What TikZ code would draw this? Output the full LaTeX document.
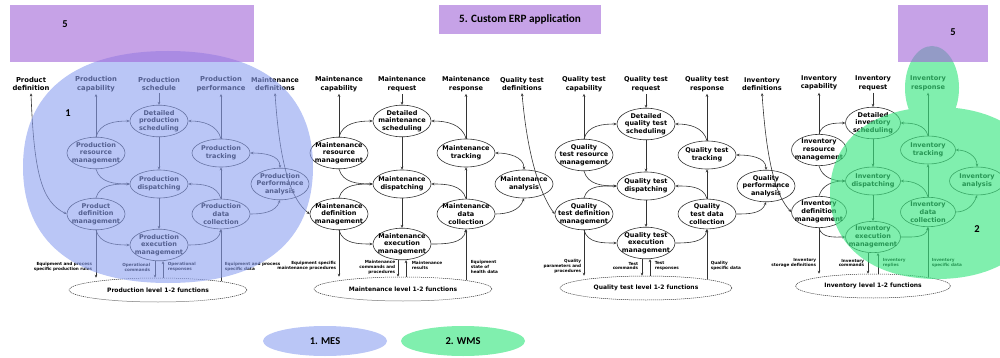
\documentclass[tikz,border=0pt]{standalone}
\usepackage{fontspec}
\newfontfamily\dvb{DejaVu Sans Bold}
\newfontfamily\crb{Carlito Bold}
\usetikzlibrary{shapes.geometric,arrows.meta}
\definecolor{mesblue}{RGB}{140,160,240}
\definecolor{wmsgreen}{RGB}{60,230,130}
\definecolor{erppurple}{RGB}{160,100,215}

\begin{document}
\begin{tikzpicture}[x=1pt, y=1pt, >={Stealth[length=3pt,width=2.6pt]},
  color=black!80, line width=0.6pt, every node/.style={text=black},
  proc/.style={ellipse, draw, minimum width=58pt, minimum height=28pt, inner xsep=-6pt, inner ysep=0.3pt, align=center, font=\dvb\fontsize{6.5}{7.7}\selectfont},
  io/.style={align=center, inner sep=2pt, font=\dvb\fontsize{6.6}{8.6}\selectfont},
  bigio/.style={io, font=\dvb\fontsize{6.8}{8.8}\selectfont},
  lvl/.style={ellipse, draw, line width=0.5pt, dash pattern=on 1.2pt off 0.8pt, minimum width=178pt, minimum height=24pt, font=\dvb\fontsize{6}{7}\selectfont},
  note/.style={inner sep=0.5pt, font=\dvb\fontsize{4.2}{4.9}\selectfont},
  num/.style={font=\crb\fontsize{10.5}{12}\selectfont}]
\useasboundingbox (0,0) rectangle (1000,-358);
\clip (0,0) rectangle (1000,-358);

% production
\node[bigio] (pdefl) at (31,-84) {Product\\definition};
\node[bigio] (pcapl) at (96,-84) {Production\\capability};
\node[bigio] (pschl) at (159,-84) {Production\\schedule};
\node[bigio] (pperfl) at (221,-84) {Production\\performance};
\node[io] (mdefl) at (275,-84) {Maintenance\\definitions};
\node[proc] (psch) at (159,-121) {Detailed\\production\\scheduling};
\node[proc] (pres) at (96,-153) {Production\\resource\\management};
\node[proc] (ptrk) at (221,-153) {Production\\tracking};
\node[proc] (pdis) at (159,-184) {Production\\dispatching};
\node[proc] (pana) at (280,-184) {Production\\Performance\\analysis};
\node[proc] (pdef) at (96,-214) {Product\\definition\\management};
\node[proc] (pdc) at (221,-214) {Production\\data\\collection};
\node[proc] (pexe) at (159,-245) {Production\\execution\\management};
\node[lvl] (plvl) at (158,-290) {Production level 1-2 functions};
\node[note, anchor=east, align=right] (pn1) at (93,-267) {Equipment and process\\specific production rules};
\node[note, anchor=east, align=right] (pn2) at (151,-267) {Operational\\commands};
\node[note, anchor=west, align=left] (pn3) at (167,-267) {Operational\\responses};
\node[note, anchor=west, align=left] (pn4) at (224,-267) {Equipment and process\\specific data};

\draw[->] (pschl) -- (psch);
\draw[->] (pres) -- (pcapl);
\draw[->] (ptrk) -- (pperfl);
\draw[->] (pres.north) to[out=75,in=180] (psch.west);
\draw[->] (ptrk.north) to[out=105,in=0] (psch.east);
\draw[->] (psch) -- (pdis);
\draw[->] (pres.south) to[out=-75,in=180] (pdis.west);
\draw[->] (pdef.north) to[out=75,in=180] (pdis.west);
\draw[->] (pdc.north) to[out=105,in=0] (pdis.east);
\draw[->] (pdc) -- (ptrk);
\draw[->] (pdis) -- (pexe);
\draw[->] (pdef.south) to[out=-75,in=180] (pexe.west);
\draw[->] (pexe.east) to[out=0,in=-100] (pdc.south);
\draw[<->] (ptrk.east) to[out=0,in=90] (pana.north);
\draw[->] (pdc.east) to[out=0,in=-110] (pana.south);
\draw[<->] (pdefl.south) .. controls +(3,-80) and +(-25,12) .. (pdef.west);
\draw[->] (pdef.south) -- (pdef.south |- plvl.north);
\draw[->] ([xshift=-4pt]pexe.south) -- ([xshift=-4pt]pexe.south |- plvl.north);
\draw[<-] ([xshift=4pt]pexe.south) -- ([xshift=4pt]pexe.south |- plvl.north);
\draw[->] ([yshift=-3pt]plvl.north -| pdc.south) -- (pdc.south);

% maintenance
\node[io] (mcapl) at (339,-84) {Maintenance\\capability};
\node[io] (mreql) at (402,-84) {Maintenance\\request};
\node[io] (mrspl) at (466,-84) {Maintenance\\response};
\node[io] (qdefl) at (522,-84) {Quality test\\definitions};
\node[proc] (msch) at (402,-121) {Detailed\\maintenance\\scheduling};
\node[proc] (mres) at (339,-153) {Maintenance\\resource\\management};
\node[proc] (mtrk) at (466,-153) {Maintenance\\tracking};
\node[proc] (mdis) at (402,-184) {Maintenance\\dispatching};
\node[proc] (mana) at (524,-184) {Maintenance\\analysis};
\node[proc] (mdef) at (339,-214) {Maintenance\\definition\\management};
\node[proc] (mdc) at (466,-214) {Maintenance\\data\\collection};
\node[proc] (mexe) at (402,-244) {Maintenance\\execution\\management};
\node[lvl] (mlvl) at (403,-289) {Maintenance level 1-2 functions};
\node[note, anchor=east, align=right] (mn1) at (337,-266) {Equipment specific\\maintenance procedures};
\node[note, anchor=east, align=right] (mn2) at (396,-267) {Maintenance\\commands and\\procedures};
\node[note, anchor=west, align=left] (mn3) at (411,-265) {Maintenance\\results};
\node[note, anchor=west, align=left] (mn4) at (470,-267) {Equipment\\state of\\health data};

\draw[->] (mreql) -- (msch);
\draw[->] (mres) -- (mcapl);
\draw[->] (mtrk) -- (mrspl);
\draw[->] (mres.north) to[out=75,in=180] (msch.west);
\draw[->] (mtrk.north) to[out=105,in=0] (msch.east);
\draw[->] (msch) -- (mdis);
\draw[->] (mres.south) to[out=-75,in=180] (mdis.west);
\draw[->] (mdef.north) to[out=75,in=180] (mdis.west);
\draw[->] (mdc.north) to[out=105,in=0] (mdis.east);
\draw[->] (mdc) -- (mtrk);
\draw[->] (mdis) -- (mexe);
\draw[->] (mdef.south) to[out=-75,in=180] (mexe.west);
\draw[->] (mexe.east) to[out=0,in=-100] (mdc.south);
\draw[<->] (mtrk.east) to[out=0,in=90] (mana.north);
\draw[->] (mdc.east) to[out=0,in=-110] (mana.south);
\draw[<->] (mdefl.south) .. controls +(5,-75) and +(-18,14) .. (mdef.west);
\draw[->] (mdef.south) -- (mdef.south |- mlvl.north);
\draw[->] ([xshift=-4pt]mexe.south) -- ([xshift=-4pt]mexe.south |- mlvl.north);
\draw[<-] ([xshift=4pt]mexe.south) -- ([xshift=4pt]mexe.south |- mlvl.north);
\draw[->] ([yshift=-3pt]mlvl.north -| mdc.south) -- (mdc.south);

% quality test
\node[io] (qcapl) at (584,-84) {Quality test\\capability};
\node[io] (qreql) at (646,-84) {Quality test\\request};
\node[io] (qrspl) at (707,-84) {Quality test\\response};
\node[io] (idefl) at (762,-84) {Inventory\\definitions};
\node[proc] (qsch) at (646,-124) {Detailed\\quality test\\scheduling};
\node[proc] (qres) at (584,-155) {Quality\\test resource\\management};
\node[proc] (qtrk) at (707,-155) {Quality test\\tracking};
\node[proc] (qdis) at (646,-186) {Quality test\\dispatching};
\node[proc] (qana) at (766,-186) {Quality\\performance\\analysis};
\node[proc] (qdef) at (584,-214) {Quality\\test definition\\management};
\node[proc] (qdc) at (707,-214) {Quality\\test data\\collection};
\node[proc] (qexe) at (646,-243) {Quality test\\execution\\management};
\node[lvl, minimum width=172pt] (qlvl) at (646,-288) {Quality test level 1-2 functions};
\node[note, anchor=east, align=right] (qn1) at (582,-266) {Quality\\parameters and\\procedures};
\node[note, anchor=east, align=right] (qn2) at (639,-266) {Test\\commands};
\node[note, anchor=west, align=left] (qn3) at (654,-266) {Test\\responses};
\node[note, anchor=west, align=left] (qn4) at (710,-266) {Quality\\specific data};

\draw[->] (qreql) -- (qsch);
\draw[->] (qres) -- (qcapl);
\draw[->] (qtrk) -- (qrspl);
\draw[->] (qres.north) to[out=75,in=180] (qsch.west);
\draw[->] (qtrk.north) to[out=105,in=0] (qsch.east);
\draw[->] (qsch) -- (qdis);
\draw[->] (qres.south) to[out=-75,in=180] (qdis.west);
\draw[->] (qdef.north) to[out=75,in=180] (qdis.west);
\draw[->] (qdc.north) to[out=105,in=0] (qdis.east);
\draw[->] (qdc) -- (qtrk);
\draw[->] (qdis) -- (qexe);
\draw[->] (qdef.south) to[out=-75,in=180] (qexe.west);
\draw[->] (qexe.east) to[out=0,in=-100] (qdc.south);
\draw[<->] (qtrk.east) to[out=0,in=90] (qana.north);
\draw[->] (qdc.east) to[out=0,in=-110] (qana.south);
\draw[<->] (qdefl.south) .. controls +(6,-70) and +(-12,16) .. (qdef.west);
\draw[->] (qdef.south) -- (qdef.south |- qlvl.north);
\draw[->] ([xshift=-4pt]qexe.south) -- ([xshift=-4pt]qexe.south |- qlvl.north);
\draw[<-] ([xshift=4pt]qexe.south) -- ([xshift=4pt]qexe.south |- qlvl.north);
\draw[->] ([yshift=-3pt]qlvl.north -| qdc.south) -- (qdc.south);

% inventory
\node[io] (icapl) at (819,-83) {Inventory\\capability};
\node[io] (ireql) at (873,-83) {Inventory\\request};
\node[io] (irspl) at (928,-83) {Inventory\\response};
\node[proc, minimum width=55pt] (isch) at (873,-123) {Detailed\\inventory\\scheduling};
\node[proc, minimum width=55pt] (ires) at (819,-150) {Inventory\\resource\\management};
\node[proc, minimum width=55pt] (itrk) at (928,-150) {Inventory\\tracking};
\node[proc, minimum width=55pt] (idis) at (873,-181) {Inventory\\dispatching};
\node[proc, minimum width=55pt] (iana) at (977,-181) {Inventory\\analysis};
\node[proc, minimum width=55pt] (idef) at (819,-212) {Inventory\\definition\\management};
\node[proc, minimum width=55pt] (idc) at (928,-212) {Inventory\\data\\collection};
\node[proc, minimum width=55pt] (iexe) at (873,-237) {Inventory\\execution\\management};
\node[lvl, minimum width=155pt] (ilvl) at (873,-286) {Inventory level 1-2 functions};
\node[note, anchor=east, align=right] (in1) at (817,-263) {Inventory\\storage definitions};
\node[note, anchor=east, align=right] (in2) at (865,-263) {Inventory\\commands};
\node[note, anchor=west, align=left] (in3) at (882,-263) {Inventory\\replies};
\node[note, anchor=west, align=left] (in4) at (931,-263) {Inventory\\specific data};

\draw[->] (ireql) -- (isch);
\draw[->] (ires) -- (icapl);
\draw[->] (itrk) -- (irspl);
\draw[->] (ires.north) to[out=75,in=180] (isch.west);
\draw[->] (itrk.north) to[out=105,in=0] (isch.east);
\draw[->] (isch) -- (idis);
\draw[->] (ires.south) to[out=-75,in=180] (idis.west);
\draw[->] (idef.north) to[out=75,in=180] (idis.west);
\draw[->] (idc.north) to[out=105,in=0] (idis.east);
\draw[->] (idc) -- (itrk);
\draw[->] (idis) -- (iexe);
\draw[->] (idef.south) to[out=-75,in=180] (iexe.west);
\draw[->] (iexe.east) to[out=0,in=-100] (idc.south);
\draw[<->] (itrk.east) to[out=0,in=90] (iana.north);
\draw[->] (idc.east) to[out=0,in=-110] (iana.south);
\draw[<->] (idefl.south) .. controls +(5,-75) and +(-14,15) .. (idef.west);
\draw[->] (idef.south) -- (idef.south |- ilvl.north);
\draw[->] ([xshift=-5pt]iexe.south) -- ([xshift=-5pt]iexe.south |- ilvl.north);
\draw[<-] ([xshift=5pt]iexe.south) -- ([xshift=5pt]iexe.south |- ilvl.north);
\draw[->] ([yshift=-3pt]ilvl.north -| idc.south) -- (idc.south);

% overlays
\fill[mesblue, opacity=0.6] (313,-167) .. controls (313,-93) and (263,-51) .. (168,-51)
  .. controls (73,-51) and (23,-93) .. (23,-167) .. controls (23,-241) and (73,-283) .. (168,-283)
  .. controls (263,-283) and (313,-241) .. (313,-167) -- cycle;
\fill[wmsgreen, opacity=0.65] (1044,-193) .. controls (1044,-141) and (1003,-107) .. (937,-107)
  .. controls (871,-107) and (830,-141) .. (830,-193) .. controls (830,-245) and (871,-279) .. (937,-279)
  .. controls (1003,-279) and (1044,-245) .. (1044,-193) -- cycle
  (932,-88) ellipse [x radius=27, y radius=42];
\fill[erppurple, opacity=0.6] (10,-5) rectangle (254,-62);
\fill[erppurple, opacity=0.6] (898,-5) rectangle (988,-62);
\node[num, font=\crb\fontsize{11.2}{13}\selectfont, fill=erppurple, fill opacity=0.6, text opacity=1, minimum width=162pt, minimum height=29pt] (erp) at (520,-19.5) {5. Custom ERP application};
\node[num] (five1) at (65,-24) {5};
\node[num] (five2) at (953,-32) {5};
\node[num] (one) at (68,-113) {1};
\node[num] (two) at (977,-229) {2};

% legend
\node[num, ellipse, fill=mesblue, fill opacity=0.6, text opacity=1, minimum width=124pt, minimum height=30pt] (mes) at (325,-341) {1. MES};
\node[num, ellipse, fill=wmsgreen, fill opacity=0.65, text opacity=1, minimum width=124pt, minimum height=30pt] (wms) at (463,-341) {2. WMS};
\end{tikzpicture}
\end{document}
